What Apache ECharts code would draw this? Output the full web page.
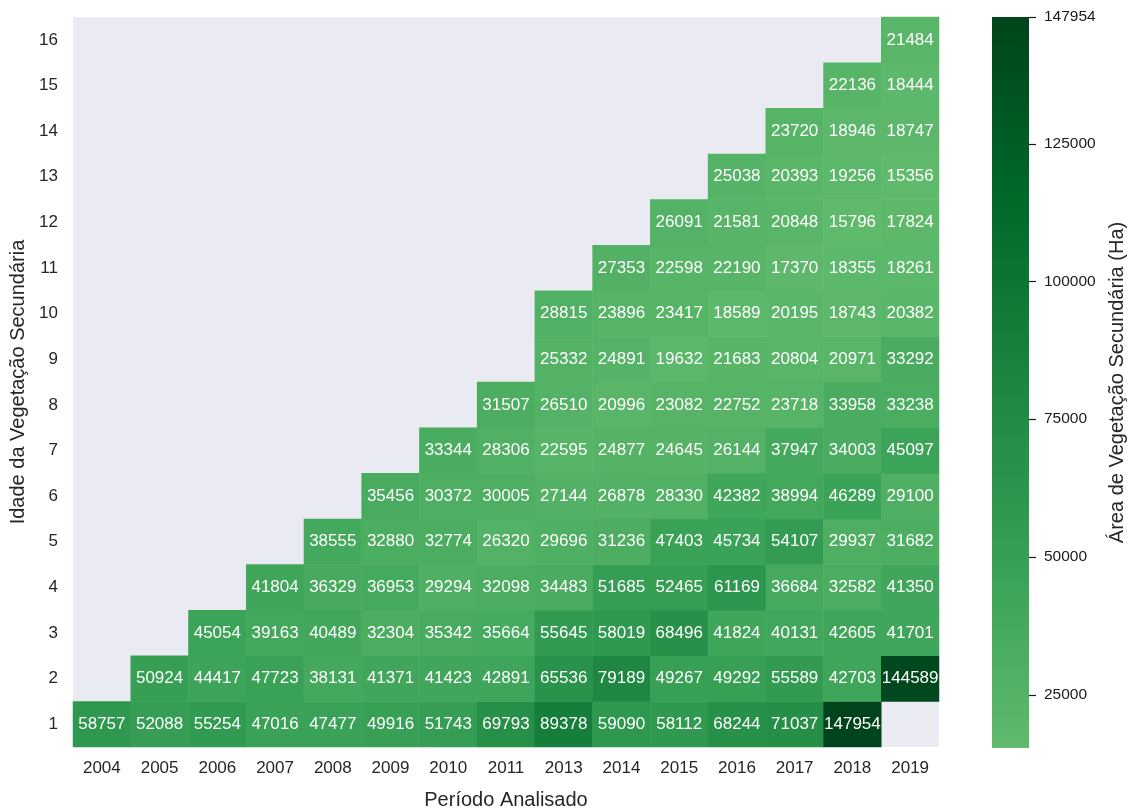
<!DOCTYPE html>
<html>
<head>
<meta charset="utf-8">
<script src="https://cdn.jsdelivr.net/npm/echarts@6/dist/echarts.min.js"></script>
<style>
  html, body { margin: 0; padding: 0; background: #ffffff; }
  #chart { width: 1131px; height: 808px; }
</style>
</head>
<body>
<div id="chart"></div>
<script>
// Período analisado (colunas) e idade da vegetação secundária (linhas)
const anos = ['2004','2005','2006','2007','2008','2009','2010','2011','2013','2014','2015','2016','2017','2018','2019'];
const idades = ['1','2','3','4','5','6','7','8','9','10','11','12','13','14','15','16'];

// Área (ha) por idade, um valor por ano; null = sem dado
const idade1  = [58757, 52088, 55254, 47016, 47477, 49916, 51743, 69793, 89378, 59090, 58112, 68244, 71037, 147954, null];
const idade2  = [null, 50924, 44417, 47723, 38131, 41371, 41423, 42891, 65536, 79189, 49267, 49292, 55589, 42703, 144589];
const idade3  = [null, null, 45054, 39163, 40489, 32304, 35342, 35664, 55645, 58019, 68496, 41824, 40131, 42605, 41701];
const idade4  = [null, null, null, 41804, 36329, 36953, 29294, 32098, 34483, 51685, 52465, 61169, 36684, 32582, 41350];
const idade5  = [null, null, null, null, 38555, 32880, 32774, 26320, 29696, 31236, 47403, 45734, 54107, 29937, 31682];
const idade6  = [null, null, null, null, null, 35456, 30372, 30005, 27144, 26878, 28330, 42382, 38994, 46289, 29100];
const idade7  = [null, null, null, null, null, null, 33344, 28306, 22595, 24877, 24645, 26144, 37947, 34003, 45097];
const idade8  = [null, null, null, null, null, null, null, 31507, 26510, 20996, 23082, 22752, 23718, 33958, 33238];
const idade9  = [null, null, null, null, null, null, null, null, 25332, 24891, 19632, 21683, 20804, 20971, 33292];
const idade10 = [null, null, null, null, null, null, null, null, 28815, 23896, 23417, 18589, 20195, 18743, 20382];
const idade11 = [null, null, null, null, null, null, null, null, null, 27353, 22598, 22190, 17370, 18355, 18261];
const idade12 = [null, null, null, null, null, null, null, null, null, null, 26091, 21581, 20848, 15796, 17824];
const idade13 = [null, null, null, null, null, null, null, null, null, null, null, 25038, 20393, 19256, 15356];
const idade14 = [null, null, null, null, null, null, null, null, null, null, null, null, 23720, 18946, 18747];
const idade15 = [null, null, null, null, null, null, null, null, null, null, null, null, null, 22136, 18444];
const idade16 = [null, null, null, null, null, null, null, null, null, null, null, null, null, null, 21484];

// Marcas da barra de cores
const ticksEscala = [25000, 50000, 75000, 100000, 125000, 147954];

const linhas = [idade1, idade2, idade3, idade4, idade5, idade6, idade7, idade8,
                idade9, idade10, idade11, idade12, idade13, idade14, idade15, idade16];

const dados = [];
linhas.forEach((linha, yi) => {
  linha.forEach((v, xi) => { if (v !== null) dados.push([xi, yi, v]); });
});
const valores = dados.map(d => d[2]);
const vmin = Math.min(...valores);
const vmax = Math.max(...valores);

// Paleta verde (claro -> escuro)
const paleta = ['#60ba6c', '#38a156', '#1c8540', '#00692a', '#00441b'];

const FONTE = '"Liberation Sans", Arial, "DejaVu Sans", sans-serif';
const TXT = '#262626';

const chart = echarts.init(document.getElementById('chart'), null, { renderer: 'canvas' });

chart.setOption({
  backgroundColor: '#ffffff',
  animation: false,
  textStyle: { fontFamily: FONTE },
  grid: [
    { left: 73, top: 17, right: 192, bottom: 61, show: true, backgroundColor: '#eaeaf2', borderWidth: 0,
      outerBoundsMode: 'none', containLabel: false },
    { left: 992, top: 17, width: 37, bottom: 60, show: false, outerBoundsMode: 'none', containLabel: false }
  ],
  xAxis: [
    {
      type: 'category', data: anos, gridIndex: 0,
      axisLine: { show: false }, axisTick: { show: false }, splitLine: { show: false },
      axisLabel: { color: TXT, fontSize: 17, margin: 13, fontFamily: FONTE },
      name: 'Período Analisado', nameLocation: 'middle', nameGap: 43,
      nameTextStyle: { color: TXT, fontSize: 20, fontFamily: FONTE }
    },
    { type: 'value', gridIndex: 1, min: 0, max: 1, show: false }
  ],
  yAxis: [
    {
      type: 'category', data: idades, gridIndex: 0,
      axisLine: { show: false }, axisTick: { show: false }, splitLine: { show: false },
      axisLabel: { color: TXT, fontSize: 17, margin: 15, fontFamily: FONTE },
      name: 'Idade da Vegetação Secundária', nameLocation: 'middle', nameGap: 35, nameRotate: 90,
      nameTextStyle: { color: TXT, fontSize: 20, fontFamily: FONTE }
    },
    {
      type: 'value', gridIndex: 1, position: 'right', min: vmin, max: vmax,
      axisLine: { show: false },
      splitLine: { show: false },
      axisTick: { show: false },
      axisLabel: { color: '#1a1a1a', fontSize: 15.5, margin: 15, fontFamily: FONTE, customValues: ticksEscala,
                   formatter: v => String(Math.round(v)) },
      name: 'Área de Vegetação Secundária (Ha)', nameLocation: 'middle', nameGap: 78, nameRotate: 90,
      nameTextStyle: { color: TXT, fontSize: 20, fontFamily: FONTE }
    }
  ],
  visualMap: {
    type: 'continuous', show: false, seriesIndex: 0,
    min: vmin, max: vmax, inRange: { color: paleta }
  },
  series: [
    {
      type: 'heatmap', xAxisIndex: 0, yAxisIndex: 0, data: dados,
      itemStyle: { borderWidth: 0 },
      label: {
        show: true, color: '#ffffff', fontSize: 17, fontFamily: FONTE,
        formatter: p => String(p.value[2])
      },
      emphasis: { disabled: true }
    },
    {
      // Barra de cores com as marcas da escala
      type: 'custom', xAxisIndex: 1, yAxisIndex: 1, silent: true,
      data: [[0, vmin, 1, vmax]],
      renderItem: (params, api) => {
        const p0 = api.coord([api.value(0), api.value(3)]);
        const p1 = api.coord([api.value(2), api.value(1)]);
        const stops = paleta.slice().reverse().map((c, i) => ({ offset: i / (paleta.length - 1), color: c }));
        const filhos = [{
          type: 'rect',
          shape: { x: p0[0], y: p0[1], width: p1[0] - p0[0], height: p1[1] - p0[1] },
          style: { fill: new echarts.graphic.LinearGradient(0, 0, 0, 1, stops) }
        }];
        ticksEscala.forEach(t => {
          const y = Math.round(api.coord([1, t])[1]) + 0.5;
          filhos.push({
            type: 'line',
            shape: { x1: p1[0], y1: y, x2: p1[0] + 7, y2: y },
            style: { stroke: '#1a1a1a', lineWidth: 1.2 }
          });
        });
        return { type: 'group', children: filhos };
      }
    }
  ]
});
</script>
</body>
</html>
